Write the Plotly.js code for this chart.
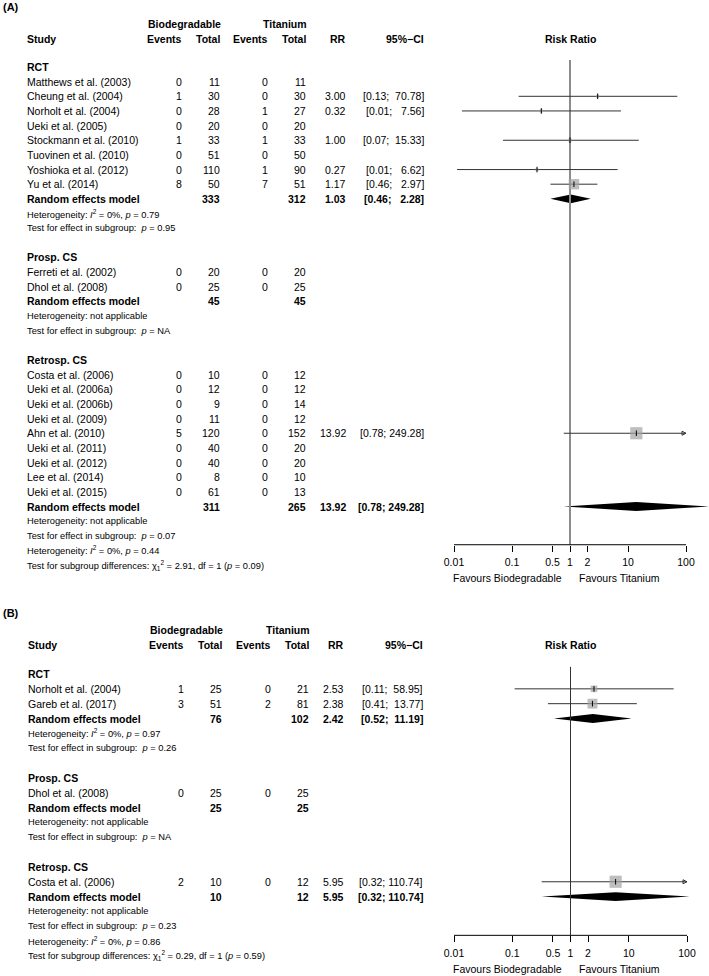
<!DOCTYPE html>
<html><head><meta charset="utf-8">
<script src="https://cdn.plot.ly/plotly-3.0.1.min.js"></script>
<style>html,body{margin:0;padding:0;background:#fff}</style>
</head><body><div id="chart" style="width:709px;height:976px"></div>
<script>
// ---------------- Panel A data ----------------
const groupNamesA = ["RCT", "Prosp. CS", "Retrosp. CS"];
const groupOfStudyA = [0,0,0,0,0,0,0,0, 1,1, 2,2,2,2,2,2,2,2,2];
const studiesA = ["Matthews et al. (2003)", "Cheung et al. (2004)", "Norholt et al. (2004)", "Ueki et al. (2005)",
  "Stockmann et al. (2010)", "Tuovinen et al. (2010)", "Yoshioka et al. (2012)", "Yu et al. (2014)",
  "Ferreti et al. (2002)", "Dhol et al. (2008)",
  "Costa et al. (2006)", "Ueki et al. (2006a)", "Ueki et al. (2006b)", "Ueki et al. (2009)", "Ahn et al. (2010)",
  "Ueki et al. (2011)", "Ueki et al. (2012)", "Lee et al. (2014)", "Ueki et al. (2015)"];
const eventsBioA = [0,1,0,0,1,0,0,8, 0,0, 0,0,0,0,5,0,0,0,0];
const totalBioA  = [11,30,28,20,33,51,110,50, 20,25, 10,12,9,11,120,40,40,8,61];
const eventsTiA  = [0,0,1,0,1,0,1,7, 0,0, 0,0,0,0,0,0,0,0,0];
const totalTiA   = [11,30,27,20,33,50,90,51, 20,25, 12,12,14,12,152,20,20,10,13];
const rrA    = [null,3.00,0.32,null,1.00,null,0.27,1.17, null,null, null,null,null,null,13.92,null,null,null,null];
const lowerA = [null,0.13,0.0137,null,0.07,null,0.0113,0.46, null,null, null,null,null,null,0.78,null,null,null,null];
const upperA = [null,70.78,7.56,null,15.33,null,6.62,2.97, null,null, null,null,null,null,249.28,null,null,null,null];
const weightA = [0,6,6,0,7,0,5,70, 0,0, 0,0,0,0,95,0,0,0,0];
const pooledBioA = [333, 45, 311];
const pooledTiA  = [312, 45, 265];
const pooledRRA    = [1.03, null, 13.92];
const pooledLowerA = [0.46, null, 0.78];
const pooledUpperA = [2.28, null, 249.28];
const hetA = ["<i>I</i><sup>2</sup> = 0%, <i>p</i> = 0.79", "not applicable", "not applicable"];
const effectPA = ["0.95", "NA", "0.07"];
const overallHetA = "<i>I</i><sup>2</sup> = 0%, <i>p</i> = 0.44";
const chi2A = "2.91", dfA = 1, pDiffA = "0.09";

// ---------------- Panel B data ----------------
const groupNamesB = ["RCT", "Prosp. CS", "Retrosp. CS"];
const groupOfStudyB = [0,0, 1, 2];
const studiesB = ["Norholt et al. (2004)", "Gareb et al. (2017)", "Dhol et al. (2008)", "Costa et al. (2006)"];
const eventsBioB = [1,3, 0, 2];
const totalBioB  = [25,51, 25, 10];
const eventsTiB  = [0,2, 0, 0];
const totalTiB   = [21,81, 25, 12];
const rrB    = [2.53, 2.38, null, 5.95];
const lowerB = [0.11, 0.41, null, 0.32];
const upperB = [58.95, 13.77, null, 110.74];
const weightB = [28, 62, 0, 95];
const pooledBioB = [76, 25, 10];
const pooledTiB  = [102, 25, 12];
const pooledRRB    = [2.42, null, 5.95];
const pooledLowerB = [0.52, null, 0.32];
const pooledUpperB = [11.19, null, 110.74];
const hetB = ["<i>I</i><sup>2</sup> = 0%, <i>p</i> = 0.97", "not applicable", "not applicable"];
const effectPB = ["0.26", "NA", "0.23"];
const overallHetB = "<i>I</i><sup>2</sup> = 0%, <i>p</i> = 0.86";
const chi2B = "0.29", dfB = 1, pDiffB = "0.59";

// ---------------- Axis ticks ----------------
const tickVals = [0.01, 0.1, 0.5, 1, 2, 10, 100];
const tickText = ["0.01", "0.1", "0.5", "1", "2", "10", "100"];
const labelLeft = "Favours Biodegradable";
const labelRight = "Favours Titanium";

// ---------------- Rendering ----------------
const W = 709, H = 976;
const FONT = "Liberation Sans, Arial, Helvetica, sans-serif";
const NB = "\u00a0";
const traces = [], annotations = [];
const layout = {
  width: W, height: H, margin: {l:0, r:0, t:0, b:0},
  paper_bgcolor: "#fff", plot_bgcolor: "rgba(0,0,0,0)",
  showlegend: false, font: {family: FONT, color: "#000"},
  annotations: annotations
};

function fmtCI(lo, hi) {
  let h = hi.toFixed(2);
  while (h.length < 6) h = NB + h;
  return "[" + lo.toFixed(2) + ";" + NB + h + "]";
}

function buildPanel(d, cfg) {
  const xa = cfg.xa, ya = cfg.ya;
  const yref = ya === "yaxis" ? "y" : "y2";
  const xref = xa === "xaxis" ? "x" : "x2";
  const rows = [];
  let r = 0;
  d.groups.forEach((g, gi) => {
    rows.push({kind: "group", g: gi, r: r++});
    d.studies.forEach((s, i) => { if (d.groupOf[i] === gi) rows.push({kind: "study", i: i, r: r++}); });
    rows.push({kind: "pooled", g: gi, r: r++});
    rows.push({kind: "het", g: gi, r: r++});
    rows.push({kind: "test", g: gi, r: r++});
    if (gi < d.groups.length - 1) r++;
  });
  const lastRow = r - 1;
  rows.push({kind: "overallHet", r: r});
  rows.push({kind: "diff", r: r + 1});
  const axisRow = lastRow + 0.61;

  const c = cfg.cols;
  function T(px, row, text, anchor, size, bold) {
    annotations.push({
      xref: "paper", yref: yref, x: px / W, y: row, text: bold ? "<b>" + text + "</b>" : text,
      showarrow: false, xanchor: anchor, yanchor: "middle", borderpad: 0,
      font: {family: FONT, size: size, color: "#000"}
    });
  }
  const FS = 10.5, FSS = 9.3;
  T(c.totB + 1, -2.95, "Biodegradable", "right", FS, true);
  T(c.totT + 1, -2.95, "Titanium", "right", FS, true);
  T(c.study, -1.94, "Study", "left", FS, true);
  T(c.evB, -1.94, "Events", "right", FS, true);
  T(c.totB, -1.94, "Total", "right", FS, true);
  T(c.evT, -1.94, "Events", "right", FS, true);
  T(c.totT, -1.94, "Total", "right", FS, true);
  T(c.rr, -1.94, "RR", "right", FS, true);
  T(c.ci, -1.94, "95%\u2212CI", "right", FS, true);
  T(570, -1.94, "Risk Ratio", "center", FS, true);
  T(2, -4.12, "(" + cfg.label + ")", "left", 11, true);
  T(cfg.favL, axisRow + 2.3, labelLeft, "right", FS, false);
  T(cfg.favR, axisRow + 2.3, labelRight, "left", FS, false);

  const ciX = [], ciY = [], sqX = [], sqY = [], sqS = [], arX = [], arY = [];
  rows.forEach(row => {
    if (row.kind === "group") {
      T(c.study, row.r, d.groups[row.g], "left", FS, true);
    } else if (row.kind === "study") {
      const i = row.i;
      T(c.study, row.r, d.studies[i], "left", FS, false);
      T(c.evB, row.r, String(d.evB[i]), "right", FS, false);
      T(c.totB, row.r, String(d.totB[i]), "right", FS, false);
      T(c.evT, row.r, String(d.evT[i]), "right", FS, false);
      T(c.totT, row.r, String(d.totT[i]), "right", FS, false);
      if (d.rr[i] !== null) {
        T(c.rr, row.r, d.rr[i].toFixed(2), "right", FS, false);
        T(c.ci, row.r, fmtCI(d.lo[i], d.hi[i]), "right", FS, false);
        const hiC = Math.min(d.hi[i], 100);
        ciX.push(d.lo[i], hiC, null); ciY.push(row.r, row.r, null);
        if (d.hi[i] > 100) { arX.push(100); arY.push(row.r); }
        sqX.push(d.rr[i]); sqY.push(row.r); sqS.push(Math.max(3, 1.25 * Math.sqrt(d.wt[i])));
      }
    } else if (row.kind === "pooled") {
      const g = row.g;
      T(c.study, row.r, "Random effects model", "left", FS, true);
      T(c.totB, row.r, String(d.pB[g]), "right", FS, true);
      T(c.totT, row.r, String(d.pT[g]), "right", FS, true);
      if (d.pRR[g] !== null) {
        T(c.rr, row.r, d.pRR[g].toFixed(2), "right", FS, true);
        T(c.ci, row.r, fmtCI(d.pLo[g], d.pHi[g]), "right", FS, true);
        const h = 0.3;
        traces.push({
          type: "scatter", mode: "lines", xaxis: xref, yaxis: yref,
          x: [d.pLo[g], d.pRR[g], d.pHi[g], d.pRR[g], d.pLo[g]],
          y: [row.r, row.r - h, row.r, row.r + h, row.r],
          fill: "toself", fillcolor: "#000", line: {width: 0, color: "#000"}, hoverinfo: "skip"
        });
      }
    } else if (row.kind === "het") {
      T(c.study, row.r, "Heterogeneity: " + d.het[row.g], "left", FSS, false);
    } else if (row.kind === "test") {
      T(c.study, row.r, "Test for effect in subgroup:" + NB + NB + "<i>p</i> = " + d.effP[row.g], "left", FSS, false);
    } else if (row.kind === "overallHet") {
      T(c.study, row.r, "Heterogeneity: " + d.overallHet, "left", FSS, false);
    } else if (row.kind === "diff") {
      T(c.study, row.r, "Test for subgroup differences: \u03c7<sub>" + d.df + "</sub><sup>2</sup> = " + d.chi2 +
        ", df = " + d.df + " (<i>p</i> = " + d.pDiff + ")", "left", FSS, false);
    }
  });

  traces.push({type: "scatter", mode: "lines", xaxis: xref, yaxis: yref, x: [1, 1], y: [-0.48, axisRow],
    line: {color: cfg.nullColor, width: cfg.nullWidth}, hoverinfo: "skip"});
  traces.push({type: "scatter", mode: "lines", xaxis: xref, yaxis: yref,
    x: [tickVals[0], tickVals[tickVals.length - 1]], y: [axisRow, axisRow],
    line: {color: "#000", width: 1}, hoverinfo: "skip"});
  traces.push({type: "scatter", mode: "lines", xaxis: xref, yaxis: yref, x: ciX, y: ciY,
    line: {color: "#333", width: 1}, hoverinfo: "skip"});
  if (arX.length) traces.push({type: "scatter", mode: "markers", xaxis: xref, yaxis: yref, x: arX, y: arY,
    marker: {symbol: "arrow-right-open", size: 4, color: "#333", line: {color: "#333", width: 1}}, hoverinfo: "skip"});
  traces.push({type: "scatter", mode: "markers", xaxis: xref, yaxis: yref, x: sqX, y: sqY,
    marker: {symbol: "square", size: sqS, color: "#a3a3a3", line: {width: 0}}, hoverinfo: "skip"});
  traces.push({type: "scatter", mode: "markers", xaxis: xref, yaxis: yref, x: sqX, y: sqY,
    marker: {symbol: "line-ns", size: 4, color: "#000", line: {color: "#000", width: 1}}, hoverinfo: "skip"});

  const y0 = cfg.top0, rh = cfg.rowH;
  layout[ya] = {
    domain: [1 - cfg.pxBottom / H, 1 - cfg.pxTop / H],
    range: [(cfg.pxBottom - y0) / rh, (cfg.pxTop - y0) / rh],
    visible: false, fixedrange: true
  };
  const dec = (cfg.px100 - cfg.px001) / 4;
  const axisPx = y0 + rh * axisRow;
  layout[xa] = {
    type: "log", domain: [0, 1],
    range: [-2 - cfg.px001 / dec, 2 + (W - cfg.px100) / dec],
    anchor: "free", position: 1 - axisPx / H, side: "bottom",
    showgrid: false, zeroline: false, showline: false,
    ticks: "outside", ticklen: 6, tickwidth: 1, tickcolor: "#000",
    ticklabelstandoff: 2,
    tickvals: tickVals, ticktext: tickText,
    tickfont: {family: FONT, size: FS, color: "#000"}, fixedrange: true
  };
}

buildPanel({
  groups: groupNamesA, groupOf: groupOfStudyA, studies: studiesA,
  evB: eventsBioA, totB: totalBioA, evT: eventsTiA, totT: totalTiA,
  rr: rrA, lo: lowerA, hi: upperA, wt: weightA,
  pB: pooledBioA, pT: pooledTiA, pRR: pooledRRA, pLo: pooledLowerA, pHi: pooledUpperA,
  het: hetA, effP: effectPA, overallHet: overallHetA, chi2: chi2A, df: dfA, pDiff: pDiffA
}, {
  label: "A", xa: "xaxis", ya: "yaxis", top0: 67, rowH: 14.65, pxTop: 0, pxBottom: 600,
  px001: 454, px100: 686, nullColor: "#8c8c8c", nullWidth: 2, favL: 563, favR: 578,
  cols: {study: 26, evB: 183, totB: 221, evT: 269, totT: 307, rr: 347, ci: 425}
});
buildPanel({
  groups: groupNamesB, groupOf: groupOfStudyB, studies: studiesB,
  evB: eventsBioB, totB: totalBioB, evT: eventsTiB, totT: totalTiB,
  rr: rrB, lo: lowerB, hi: upperB, wt: weightB,
  pB: pooledBioB, pT: pooledTiB, pRR: pooledRRB, pLo: pooledLowerB, pHi: pooledUpperB,
  het: hetB, effP: effectPB, overallHet: overallHetB, chi2: chi2B, df: dfB, pDiff: pDiffB
}, {
  label: "B", xa: "xaxis2", ya: "yaxis2", top0: 674, rowH: 14.84, pxTop: 600, pxBottom: 976,
  px001: 454, px100: 687, nullColor: "#333", nullWidth: 1, favL: 563, favR: 578,
  cols: {study: 27, evB: 185, totB: 223, evT: 272, totT: 310, rr: 345, ci: 424}
});

Plotly.newPlot("chart", traces, layout, {staticPlot: true, displayModeBar: false});
</script></body></html>
